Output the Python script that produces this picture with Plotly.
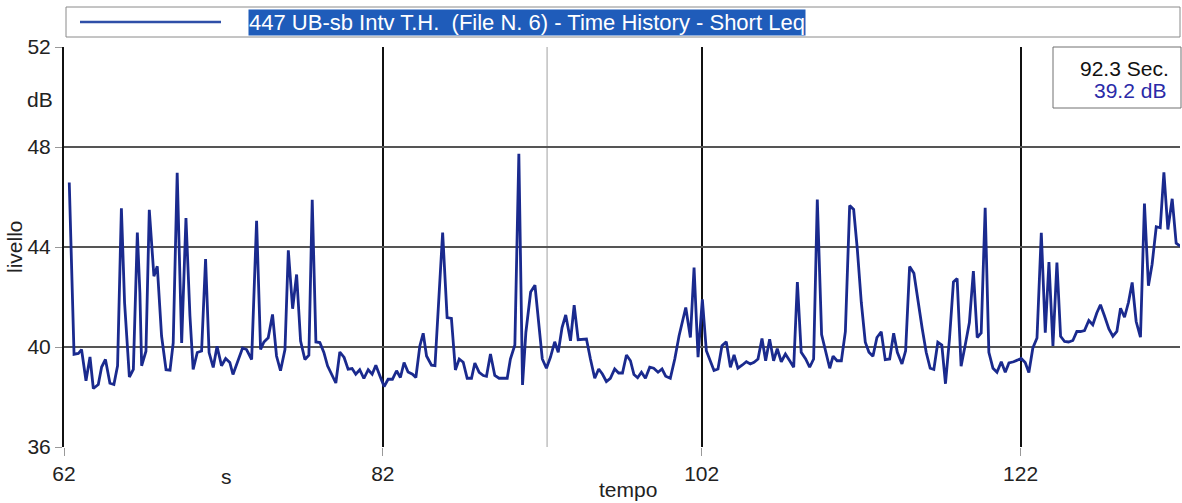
import plotly.graph_objects as go

# ---- data ----
time_s = [
    62.33, 62.63, 62.9, 63.1, 63.38, 63.63, 63.84, 64.15, 64.36, 64.6, 64.88, 65.13, 65.36, 65.6, 65.8,
    66.1, 66.35, 66.6, 66.76, 66.87, 67.14, 67.35, 67.64, 67.85, 68.12, 68.4, 68.65, 68.85, 69.1, 69.38,
    69.65, 69.9, 70.1, 70.36, 70.63, 70.88, 71.1, 71.36, 71.6, 71.88, 72.14, 72.4, 72.6, 72.93, 73.2,
    73.45, 73.77, 74.08, 74.33, 74.54, 74.81, 75.08, 75.33, 75.58, 75.86, 76.07, 76.34, 76.59, 76.84,
    77.11, 77.36, 77.57, 77.8, 78.05, 78.3, 78.53, 78.78, 79.05, 79.3, 79.57, 79.82, 80.07, 80.3, 80.55,
    80.81, 81.08, 81.33, 81.56, 81.81, 82.08, 82.33, 82.6, 82.86, 83.1, 83.33, 83.58, 83.86, 84.07,
    84.32, 84.53, 84.74, 85.05, 85.27, 85.48, 85.75, 86.03, 86.3, 86.55, 86.79, 87.04, 87.29, 87.56,
    87.77, 88.04, 88.3, 88.5, 88.75, 89.02, 89.29, 89.54, 89.8, 90.0, 90.28, 90.53, 90.76, 90.97, 91.27,
    91.54, 91.79, 92.0, 92.26, 92.51, 92.78, 93.0, 93.24, 93.47, 93.77, 94.0, 94.25, 94.52, 94.77, 95.02,
    95.29, 95.54, 95.77, 96.02, 96.27, 96.54, 96.79, 97.03, 97.28, 97.53, 97.75, 97.98, 98.22, 98.47,
    98.74, 98.99, 99.26, 99.51, 99.74, 100.03, 100.31, 100.58, 100.79, 101.0, 101.29, 101.52, 101.77,
    102.04, 102.29, 102.54, 102.77, 103.02, 103.27, 103.54, 103.8, 104.03, 104.27, 104.55, 104.8,
    105.05, 105.28, 105.53, 105.78, 106.01, 106.26, 106.51, 106.74, 106.99, 107.25, 107.52, 107.77,
    108.0, 108.24, 108.52, 108.77, 109.02, 109.25, 109.52, 109.8, 110.03, 110.24, 110.49, 110.76,
    111.01, 111.28, 111.53, 111.76, 112.01, 112.26, 112.49, 112.74, 112.99, 113.26, 113.51, 113.79,
    114.04, 114.27, 114.56, 114.79, 115.04, 115.31, 115.56, 115.83, 116.08, 116.33, 116.56, 116.81,
    117.06, 117.29, 117.54, 117.79, 118.02, 118.27, 118.52, 118.79, 119.04, 119.28, 119.53, 119.78,
    120.01, 120.27, 120.52, 120.79, 121.04, 121.27, 121.56, 121.8, 122.04, 122.29, 122.52, 122.77,
    123.03, 123.3, 123.55, 123.78, 124.03, 124.28, 124.51, 124.76, 125.01, 125.28, 125.53, 125.76,
    126.01, 126.28, 126.53, 126.78, 127.01, 127.26, 127.54, 127.79, 128.04, 128.27, 128.52, 128.77,
    129.0, 129.25, 129.52, 129.77, 130.02, 130.25, 130.51, 130.76, 130.99, 131.24, 131.51, 131.76, 132.01,
]
level_db = [
    46.58, 39.71, 39.74, 39.9, 38.65, 39.6, 38.34, 38.5, 39.2, 39.5, 38.55, 38.5, 39.25, 45.55, 41.77,
    38.8, 39.1, 44.58, 42.17, 39.25, 39.83, 45.49, 42.83, 43.23, 40.44, 39.09, 39.07, 40.16, 46.97, 40.16,
    45.16, 41.24, 39.1, 39.78, 39.84, 43.52, 39.78, 39.18, 40.03, 39.25, 39.54, 39.38, 38.9, 39.5, 39.96,
    39.9, 39.5, 45.05, 39.9, 40.2, 40.37, 41.3, 39.64, 39.05, 39.9, 43.87, 41.53, 42.9, 40.24,
    39.5, 39.67, 45.89, 40.2, 40.18, 39.78, 39.25, 38.91, 38.56, 39.8, 39.58, 39.11, 39.14, 38.91, 39.09,
    38.74, 39.09, 38.91, 39.27, 38.85, 38.42, 38.71, 38.71, 39.05, 38.78, 39.38, 39.0, 38.91, 38.78,
    40.04, 40.55, 39.64, 39.27, 39.25, 41.5, 44.58, 41.18, 41.14, 39.08, 39.52, 39.39, 38.75, 38.75,
    39.36, 38.99, 38.86, 38.83, 39.72, 38.86, 38.75, 38.75, 38.75, 39.52, 40.08, 47.73, 38.48, 40.58, 42.2,
    42.47, 40.98, 39.52, 39.15, 39.59, 40.21, 39.79, 40.78, 41.28, 40.25, 41.67, 40.29, 40.32, 40.32, 39.52,
    38.75, 39.12, 38.92, 38.62, 38.75, 39.12, 38.96, 38.96, 39.68, 39.45, 38.9, 38.77, 38.99, 38.75,
    39.19, 39.15, 38.99, 39.12, 38.83, 38.75, 39.52, 40.45, 40.98, 41.58, 40.38, 43.18, 39.59,
    41.91, 39.85, 39.45, 39.06, 39.12, 40.05, 40.21, 39.19, 39.68, 39.15, 39.28, 39.41,
    39.32, 39.39, 39.52, 40.34, 39.45, 40.31, 39.45, 39.93, 39.41, 39.72, 39.45, 39.19,
    42.6, 39.79, 39.52, 39.19, 39.52, 45.9, 40.5, 39.7, 39.15, 39.63, 39.45, 39.45,
    40.61, 45.66, 45.5, 43.91, 41.78, 40.19, 39.79, 39.63, 40.38, 40.61, 39.49, 39.52,
    40.55, 39.79, 39.32, 39.85, 43.22, 42.95, 41.78, 40.74, 39.79, 39.15, 39.1, 40.19,
    40.08, 38.53, 40.32, 42.6, 42.74, 39.23, 40.05, 40.98, 43.04, 40.38, 40.56, 45.57,
    39.79, 39.15, 38.99, 39.41, 38.99, 39.36, 39.41, 39.48, 39.54, 39.38, 38.98, 39.96,
    40.36, 44.57, 40.57, 43.4, 40.04, 43.38, 40.43, 40.22, 40.2, 40.26, 40.62, 40.62,
    40.66, 41.06, 40.89, 41.36, 41.69, 41.25, 40.72, 40.43, 40.62, 41.55, 41.19, 41.79,
    42.58, 41.02, 40.39, 45.74, 42.45, 43.31, 44.81, 44.77, 46.99, 44.7, 45.93, 44.15, 44.04,
]

x_ticks = [62, 82, 102, 122]
y_ticks = [36, 40, 44, 48, 52]
x_range = [62, 132]
y_range = [36, 52]

cursor_time = 92.3
cursor_level = 39.2

series_name = "447 UB-sb Intv T.H.  (File N. 6) - Time History - Short Leq"

FONT = "Liberation Sans, Arial, sans-serif"

fig = go.Figure()
fig.add_trace(go.Scatter(
    x=time_s, y=level_db, mode="lines",
    line=dict(color="#1a2a8e", width=2.8),
    showlegend=False, hoverinfo="x+y",
))

W, H = 1182, 503
ML, MR, MT, MB = 64, 2, 47, 56
PW = W - ML - MR
PH = H - MT - MB


def px(xp):
    return (xp - ML) / PW


def py(yp):
    return (H - MB - yp) / PH


shapes = [
    # cursor line
    dict(type="line", xref="x", yref="paper", x0=cursor_time, x1=cursor_time, y0=0, y1=1,
         line=dict(color="#a0a0a0", width=1), layer="below"),
    # legend frame
    dict(type="rect", xref="paper", yref="paper", x0=px(66), x1=px(1180), y0=py(37), y1=py(7),
         line=dict(color="#8a8a8a", width=1), fillcolor="white"),
    # legend line sample
    dict(type="line", xref="paper", yref="paper", x0=px(80), x1=px(221), y0=py(22), y1=py(22),
         line=dict(color="#2f4fa8", width=2.5)),
    # cursor readout box
    dict(type="rect", xref="paper", yref="paper", x0=px(1053), x1=px(1181), y0=py(108), y1=py(47),
         line=dict(color="#707070", width=1), fillcolor="white", layer="above"),
]

annotations = [
    dict(text=series_name, xref="paper", yref="paper", x=px(248), y=py(22), xanchor="left",
         yanchor="middle", showarrow=False, bgcolor="#1f5cba", borderpad=0,
         font=dict(family=FONT, size=22, color="white")),
    dict(text=f"{cursor_time} Sec.", xref="paper", yref="paper", x=px(1171), y=py(68),
         xanchor="right", yanchor="middle", showarrow=False,
         font=dict(family=FONT, size=21, color="#111111")),
    dict(text=f"{cursor_level} dB", xref="paper", yref="paper", x=px(1168), y=py(90),
         xanchor="right", yanchor="middle", showarrow=False,
         font=dict(family=FONT, size=21, color="#2a2aa8")),
    dict(text="dB", xref="paper", yref="paper", x=px(40), y=py(99), xanchor="center",
         yanchor="middle", showarrow=False, font=dict(family=FONT, size=21, color="#222")),
    dict(text="livello", xref="paper", yref="paper", x=px(14), y=py(247), xanchor="center",
         yanchor="middle", textangle=-90, showarrow=False,
         font=dict(family=FONT, size=21, color="#222")),
    dict(text="s", xref="paper", yref="paper", x=px(226), y=py(476), xanchor="center",
         yanchor="middle", showarrow=False, font=dict(family=FONT, size=21, color="#222")),
    dict(text="tempo", xref="paper", yref="paper", x=px(628), y=py(489), xanchor="center",
         yanchor="middle", showarrow=False, font=dict(family=FONT, size=21, color="#222")),
]

fig.update_layout(
    width=W, height=H,
    margin=dict(l=ML, r=MR, t=MT, b=MB, pad=0),
    paper_bgcolor="white", plot_bgcolor="white",
    shapes=shapes, annotations=annotations,
    font=dict(family=FONT, size=21, color="#222"),
    xaxis=dict(range=x_range, tickvals=x_ticks, ticktext=[str(v) for v in x_ticks],
               showgrid=True, gridcolor="#111111", gridwidth=1.6, zeroline=False,
               showline=False, ticks="outside", ticklen=8, tickcolor="#999999",
               tickfont=dict(family=FONT, size=21, color="#222"), fixedrange=True),
    yaxis=dict(range=y_range, tickvals=y_ticks, ticktext=[str(v) for v in y_ticks],
               showgrid=True, gridcolor="#555555", gridwidth=1.6, zeroline=False,
               showline=True, linecolor="#111111", linewidth=2,
               ticks="outside", ticklen=7, tickcolor="#999999",
               tickfont=dict(family=FONT, size=21, color="#222"), fixedrange=True),
)

fig.write_html(
    "out.html",
    config={"displayModeBar": False},
    post_script="document.body.style.margin='0';document.body.style.overflow='hidden';",
)
